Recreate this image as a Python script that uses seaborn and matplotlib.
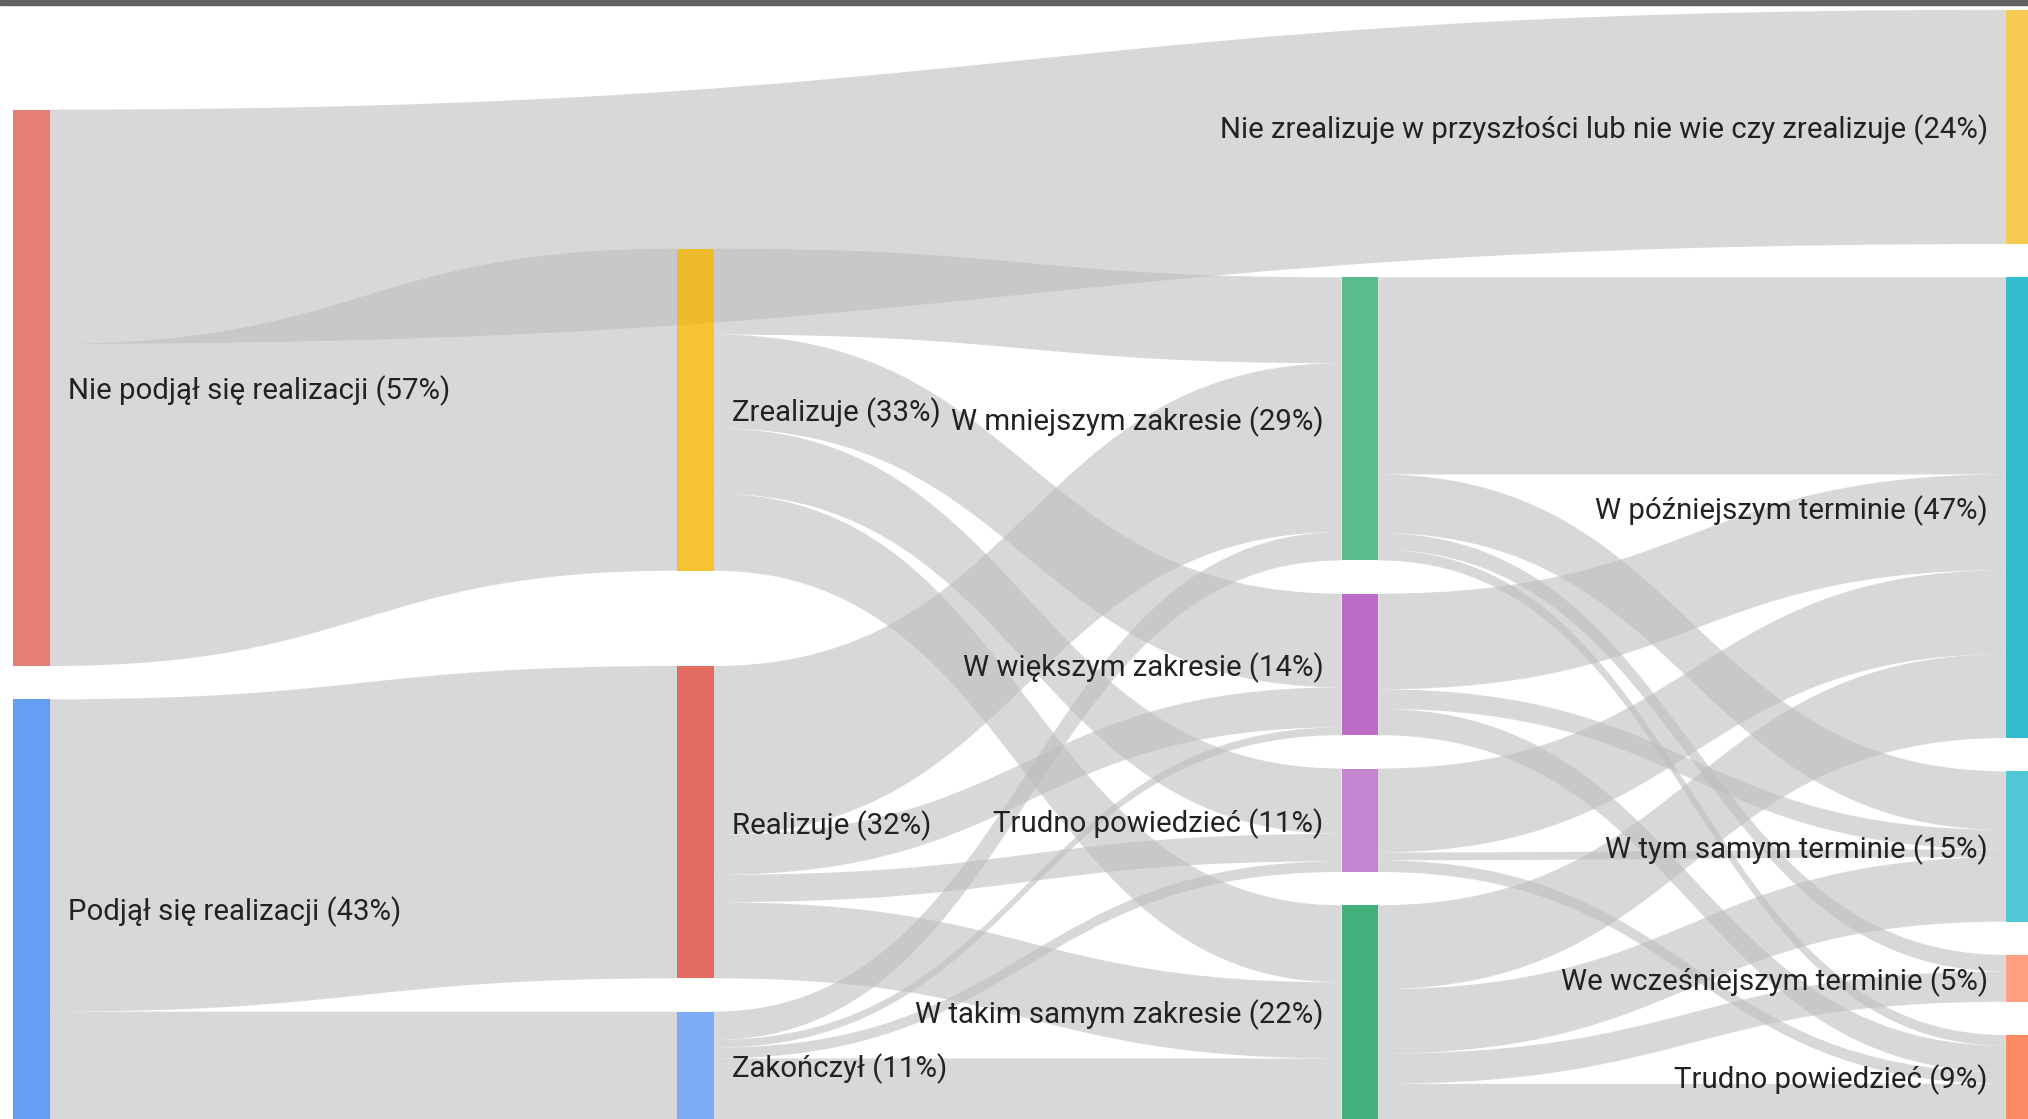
import numpy as np
import matplotlib
matplotlib.use("Agg")
import matplotlib.pyplot as plt
import seaborn as sns
from matplotlib.path import Path
from matplotlib.patches import PathPatch
from matplotlib.colors import to_rgb

# ---------------- data ----------------
node_names = [
    "Nie podjął się realizacji", "Podjął się realizacji",
    "Zrealizuje", "Realizuje", "Zakończył",
    "W mniejszym zakresie", "W większym zakresie", "Trudno powiedzieć", "W takim samym zakresie",
    "Nie zrealizuje w przyszłości lub nie wie czy zrealizuje", "W późniejszym terminie",
    "W tym samym terminie", "We wcześniejszym terminie", "Trudno powiedzieć",
]
node_columns = [0, 0, 1, 1, 1, 2, 2, 2, 2, 3, 3, 3, 3, 3]
node_shares = [57, 43, 33, 32, 11, 29, 14, 11, 22, 24, 47, 15, 5, 9]
node_colors = ["#E67E74", "#679EF5", "#F6C333", "#E46B61", "#7FACF7",
               "#5BBB8B", "#BC6BC8", "#C584D0", "#41B07A",
               "#F7CC52", "#33BCD0", "#50C7D6", "#FF9F80", "#FF8B66"]

link_source = [0, 0, 1, 1,
               2, 2, 2, 2,
               3, 3, 3, 3,
               4, 4, 4, 4,
               5, 5, 5, 5,
               6, 6, 6,
               7, 7, 7,
               8, 8, 8, 8]
link_target = [9, 2, 3, 4,
               5, 6, 7, 8,
               5, 6, 7, 8,
               5, 6, 7, 8,
               10, 11, 12, 13,
               10, 11, 13,
               10, 11, 13,
               10, 11, 12, 13]
link_value = [24, 33, 32, 11,
              8.8, 9.6, 6.7, 7.9,
              17.3, 4.1, 2.8, 7.8,
              2.9, 0.8, 1.1, 6.2,
              20.2, 6.0, 1.7, 1.1,
              9.8, 2.0, 2.7,
              8.6, 0.8, 1.2,
              8.6, 6.6, 3.1, 3.6]

# ---------------- layout parameters ----------------
FIG_W, FIG_H = 2028, 1119
K = 9.76            # px per percent
PAD = 33.3          # gap between nodes
BOTTOM = 1119.0
X0, DX, NODE_W = 13.0, 664.3, 36.5
EXTRA_GAP_BELOW = {2: 62.0}
LABEL_GAP = 18.0
LABEL_DY = 3.0
FONT_SIZE = 21.2
LINK_COLOR = "#BDBDBD"
LINK_ALPHA = 0.58
NODE_ALPHA = 0.8
TEXT_COLOR = "#222222"

sns.set_theme(style="white")
plt.rcParams["font.family"] = ["Roboto", "DejaVu Sans"]

n = len(node_names)
out_sum = np.zeros(n)
in_sum = np.zeros(n)
for s, t, v in zip(link_source, link_target, link_value):
    out_sum[s] += v
    in_sum[t] += v
node_value = np.maximum(out_sum, in_sum)

# node positions: columns stacked from bottom
y0 = np.zeros(n)
y1 = np.zeros(n)
for c in sorted(set(node_columns)):
    idx = [i for i in range(n) if node_columns[i] == c]
    cur = BOTTOM
    for i in reversed(idx):
        cur -= EXTRA_GAP_BELOW.get(i, 0.0)
        y1[i] = cur
        y0[i] = cur - node_value[i] * K
        cur = y0[i] - PAD
x_left = np.array([X0 + DX * c for c in node_columns])
x_right = x_left + NODE_W

# link offsets
L = len(link_value)
ls0 = np.zeros(L)
lt0 = np.zeros(L)
for i in range(n):
    outs = sorted([j for j in range(L) if link_source[j] == i], key=lambda j: y0[link_target[j]])
    cur = y0[i]
    for j in outs:
        ls0[j] = cur
        cur += link_value[j] * K
    ins = sorted([j for j in range(L) if link_target[j] == i], key=lambda j: y0[link_source[j]])
    cur = y0[i]
    for j in ins:
        lt0[j] = cur
        cur += link_value[j] * K

fig = plt.figure(figsize=(FIG_W / 100, FIG_H / 100), dpi=100)
ax = fig.add_axes([0, 0, 1, 1])
ax.set_xlim(0, FIG_W)
ax.set_ylim(FIG_H, 0)
ax.axis("off")

# links
for j in range(L):
    s, t = link_source[j], link_target[j]
    xa, xb = x_right[s], x_left[t]
    xm = (xa + xb) / 2
    w = link_value[j] * K
    a0, b0 = ls0[j], lt0[j]
    verts = [(xa, a0), (xm, a0), (xm, b0), (xb, b0),
             (xb, b0 + w), (xm, b0 + w), (xm, a0 + w), (xa, a0 + w), (xa, a0)]
    codes = [Path.MOVETO, Path.CURVE4, Path.CURVE4, Path.CURVE4,
             Path.LINETO, Path.CURVE4, Path.CURVE4, Path.CURVE4, Path.CLOSEPOLY]
    ax.add_patch(PathPatch(Path(verts, codes), facecolor=LINK_COLOR, alpha=LINK_ALPHA,
                           edgecolor="none", zorder=1))

# nodes (translucent, as in the original)
base_colors = []
for col in node_colors:
    rgb = np.array(to_rgb(col))
    base = np.clip((rgb - (1 - NODE_ALPHA)) / NODE_ALPHA, 0, 1)
    base_colors.append(tuple(base))
ax.bar(x_left, y1 - y0, bottom=y0, width=NODE_W, align="edge",
       color=base_colors, alpha=NODE_ALPHA, linewidth=0, zorder=2)

# labels
for i in range(n):
    label = f"{node_names[i]} ({node_shares[i]}%)"
    yc = (y0[i] + y1[i]) / 2 + LABEL_DY
    if node_columns[i] < 2:
        ax.text(x_right[i] + LABEL_GAP, yc, label, ha="left", va="center",
                fontsize=FONT_SIZE, color=TEXT_COLOR, zorder=3)
    else:
        ax.text(x_left[i] - LABEL_GAP, yc, label, ha="right", va="center",
                fontsize=FONT_SIZE, color=TEXT_COLOR, zorder=3)

# dark strip along the top edge
ax.axhspan(0, 5, color="#636060", zorder=4)

fig.savefig("out.png", dpi=100)
